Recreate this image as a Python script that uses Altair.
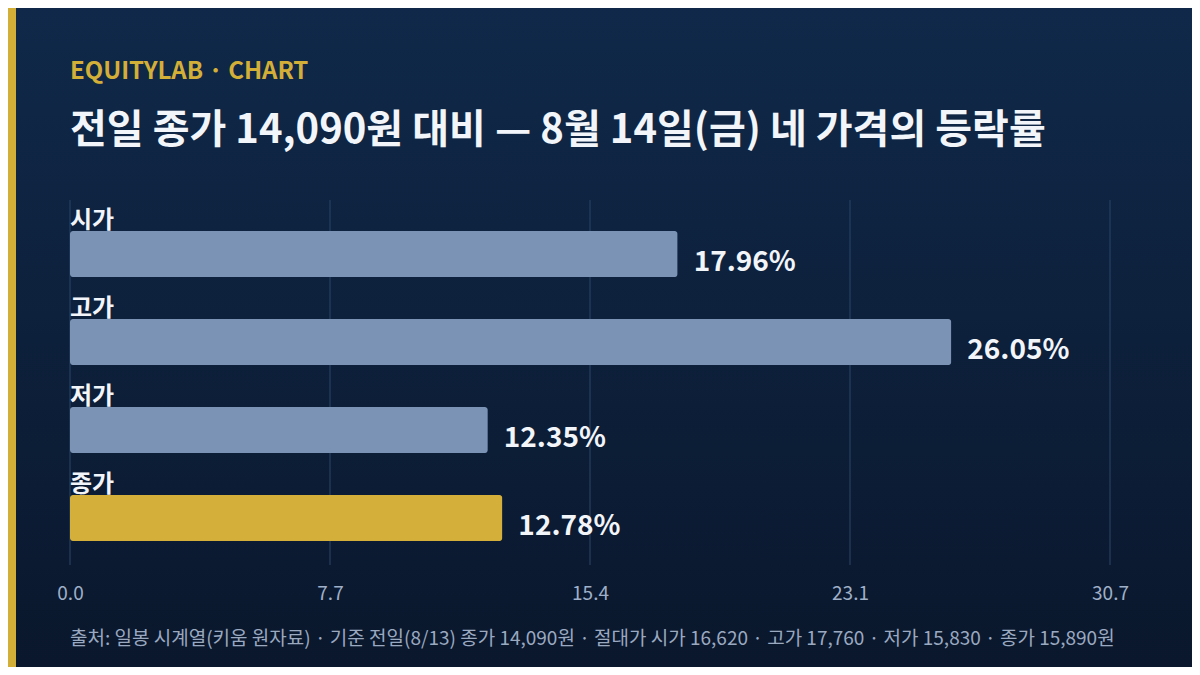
import altair as alt
import pandas as pd

# ---- data ----
categories = ["시가", "고가", "저가", "종가"]
pct_change = [17.96, 26.05, 12.35, 12.78]
value_labels = ["17.96%", "26.05%", "12.35%", "12.78%"]
bar_group = ["base", "base", "base", "highlight"]
x_ticks = [0, 7.685, 15.37, 23.055, 30.74]
x_max = 30.74

kicker = "EQUITYLAB · CHART"
title_text = "전일 종가 14,090원 대비 — 8월 14일(금) 네 가격의 등락률"
footer_text = ("출처: 일봉 시계열(키움 원자료) · 기준 전일(8/13) 종가 14,090원 · "
               "절대가 시가 16,620 · 고가 17,760 · 저가 15,830 · 종가 15,890원")

FONT = "Noto Sans CJK KR"
W, H = 1040, 365

df = pd.DataFrame({"cat": categories, "pct": pct_change,
                   "label": value_labels, "grp": bar_group})
ticks_df = pd.DataFrame({"t": x_ticks})
one = pd.DataFrame({"a": [0]})

x_scale = alt.Scale(domain=[0, x_max], nice=False, zero=True)
y_scale = alt.Scale(domain=categories, paddingInner=0, paddingOuter=0.074, align=0.77)
x_axis = alt.Axis(values=x_ticks, format=".1f", title=None, grid=False, domain=False,
                  ticks=False, labelColor="#9fb0c8", labelFontSize=19, labelFont=FONT,
                  labelPadding=19, labelFlush=False, zindex=1)

bg = alt.Chart(one).mark_rect(
    fill=alt.Gradient(gradient="linear",
                      stops=[alt.GradientStop(color="#10294a", offset=0),
                             alt.GradientStop(color="#0a172c", offset=1)],
                      x1=0, x2=0, y1=0, y2=1)
).encode(x=alt.value(-70), x2=alt.value(1130), y=alt.value(-200), y2=alt.value(475))

stripe = alt.Chart(one).mark_rect(color="#d4af37").encode(
    x=alt.value(-62), x2=alt.value(-54), y=alt.value(-200), y2=alt.value(475))

grid = alt.Chart(ticks_df).mark_rule(color="#2b4669", strokeWidth=1).encode(
    x=alt.X("t:Q", scale=x_scale, axis=x_axis),
    y=alt.value(0), y2=alt.value(H))

bars = alt.Chart(df).mark_bar(size=46, cornerRadius=3).encode(
    x=alt.X("pct:Q", scale=x_scale, axis=x_axis),
    y=alt.Y("cat:N", scale=y_scale, axis=None, sort=categories),
    color=alt.Color("grp:N", scale=alt.Scale(domain=["base", "highlight"],
                                             range=["#7b93b5", "#d4b03a"]), legend=None))

cat_labels = alt.Chart(df).mark_text(
    align="left", baseline="alphabetic", font=FONT, fontSize=24, fontWeight="bold",
    color="#f2f5fa", yOffset=-26
).encode(x=alt.value(0), y=alt.Y("cat:N", scale=y_scale, axis=None, sort=categories),
         text="cat:N")

val_labels = alt.Chart(df).mark_text(
    align="left", baseline="alphabetic", font=FONT, fontSize=28, fontWeight="bold",
    color="#f2f5fa", dx=16, yOffset=17
).encode(x=alt.X("pct:Q", scale=x_scale, axis=x_axis),
         y=alt.Y("cat:N", scale=y_scale, axis=None, sort=categories),
         text="label:N")

kicker_t = alt.Chart(one).mark_text(
    align="left", baseline="alphabetic", font=FONT, fontSize=24, fontWeight="bold",
    color="#d4af37"
).encode(x=alt.value(0), y=alt.value(-121), text=alt.value(kicker))

title_t = alt.Chart(one).mark_text(
    align="left", baseline="alphabetic", font=FONT, fontSize=40, fontWeight="bold",
    color="#f2f5fa"
).encode(x=alt.value(0), y=alt.value(-57), text=alt.value(title_text))

footer_t = alt.Chart(one).mark_text(
    align="left", baseline="alphabetic", font=FONT, fontSize=19,
    color="#9aa9c0"
).encode(x=alt.value(0), y=alt.value(445), text=alt.value(footer_text))

chart = alt.layer(bg, stripe, grid, bars, cat_labels, val_labels,
                  kicker_t, title_t, footer_t).properties(
    width=W, height=H,
    padding={"left": 62, "top": 192, "right": 82, "bottom": 102},
    autosize=alt.AutoSizeParams(type="none"),
    background="#0c1f3a",
).configure_view(stroke="transparent").configure_axisX(
    labelFontSize=19, labelColor="#9fb0c8", labelFont=FONT, labelPadding=19
)

chart.save("out.html", embed_options={"renderer": "svg", "actions": False})
